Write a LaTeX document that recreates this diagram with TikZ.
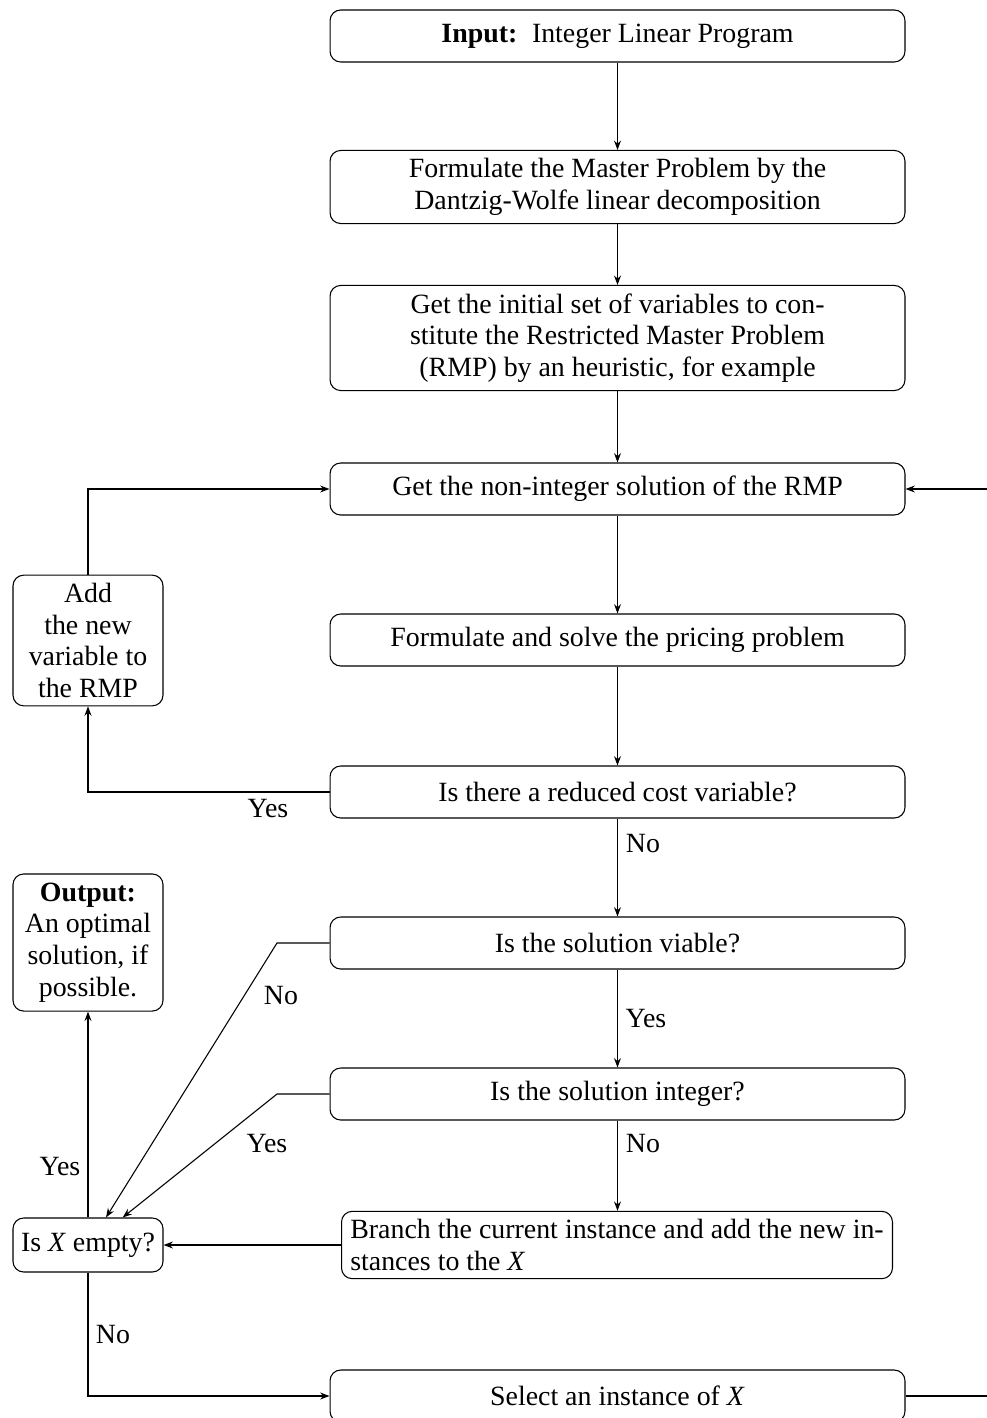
\documentclass[tikz,border=0pt]{standalone}
\usepackage{fontspec}
\setmainfont{Liberation Serif}
\usetikzlibrary{arrows.meta}
\begin{document}
\begin{tikzpicture}[x=0.375pt,y=-0.375pt,
  every node/.style={font=\fontsize{10.45pt}{11.9pt}\selectfont},
  box/.style={draw, rounded corners=4pt, minimum width=215.6pt, minimum height=19.5pt, align=center, inner sep=3pt},
  sbox/.style={draw, rounded corners=4pt, minimum width=56.25pt, align=center, inner sep=2pt},
  arr/.style={-{Stealth[length=3.5pt,width=2.6pt]}},
  lbl/.style={inner sep=0pt}]
\useasboundingbox (0,0) rectangle (986,1418);

\node[box] (input) at (617.5,36) {\textbf{Input:}\hskip 5.5pt Integer Linear Program};
\node[box, minimum height=27pt] (master) at (617.5,187) {Formulate the Master Problem by the\\Dantzig-Wolfe linear decomposition};
\node[box, minimum height=39pt] (init) at (617.5,338) {Get the initial set of variables to con-\\stitute the Restricted Master Problem\\(RMP) by an heuristic, for example};
\node[box] (nonint) at (617.5,489) {Get the non-integer solution of the RMP};
\node[box] (pricing) at (617.5,640) {Formulate and solve the pricing problem};
\node[box] (reduced) at (617.5,792) {Is there a reduced cost variable?};
\node[box] (viable) at (617.5,943) {Is the solution viable?};
\node[box] (integer) at (617.5,1094) {Is the solution integer?};
\node[box, minimum width=0pt, minimum height=24.75pt, align=left, inner xsep=3.3pt] (branch) at (617,1245) {{\spaceskip=2.2pt plus 1pt minus 1pt\makebox[200pt][s]{Branch the current instance and add the new in-}}\\stances to the \textit{X}};
\node[box] (select) at (617.5,1396) {Select an instance of \textit{X}};

\node[sbox, minimum height=49pt] (add) at (88,640.5) {Add\\the new\\variable to\\the RMP};
\node[sbox, minimum height=51.4pt] (output) at (88,942.5) {\textbf{Output:}\\An optimal\\solution, if\\possible.};
\node[sbox, minimum height=20.25pt] (isx) at (88,1245) {Is \textit{X} empty?};

\draw[arr] (input) -- (master);
\draw[arr] (master) -- (init);
\draw[arr] (init) -- (nonint);
\draw[arr] (nonint) -- (pricing);
\draw[arr] (pricing) -- (reduced);
\draw[arr] (reduced) -- (viable);
\draw[arr] (viable) -- (integer);
\draw[arr] (integer) -- (integer |- branch.north);
\draw[arr] (reduced.west) -| (add.south);
\draw[arr] (add.north) |- (nonint.west);
\draw[arr] (viable.west) -- (277,943) -- ([xshift=6.75pt]isx.north);
\draw[arr] (integer.west) -- (277,1094) -- ([xshift=13pt]isx.north);
\draw[arr] (branch) -- (isx);
\draw[arr] (isx) -- (output);
\draw[arr] (isx.south) |- (select.west);
\draw[arr] (select.east) -- (1010,1396) |- (nonint.east);

\node[lbl] (l1) at (643,844) {No};
\node[lbl] (l2) at (646,1019) {Yes};
\node[lbl] (l3) at (643,1143) {No};
\node[lbl] (l4) at (268,809) {Yes};
\node[lbl] (l5) at (281,996) {No};
\node[lbl] (l6) at (267,1143) {Yes};
\node[lbl] (l7) at (60,1166) {Yes};
\node[lbl] (l8) at (113,1334) {No};
\end{tikzpicture}
\end{document}
